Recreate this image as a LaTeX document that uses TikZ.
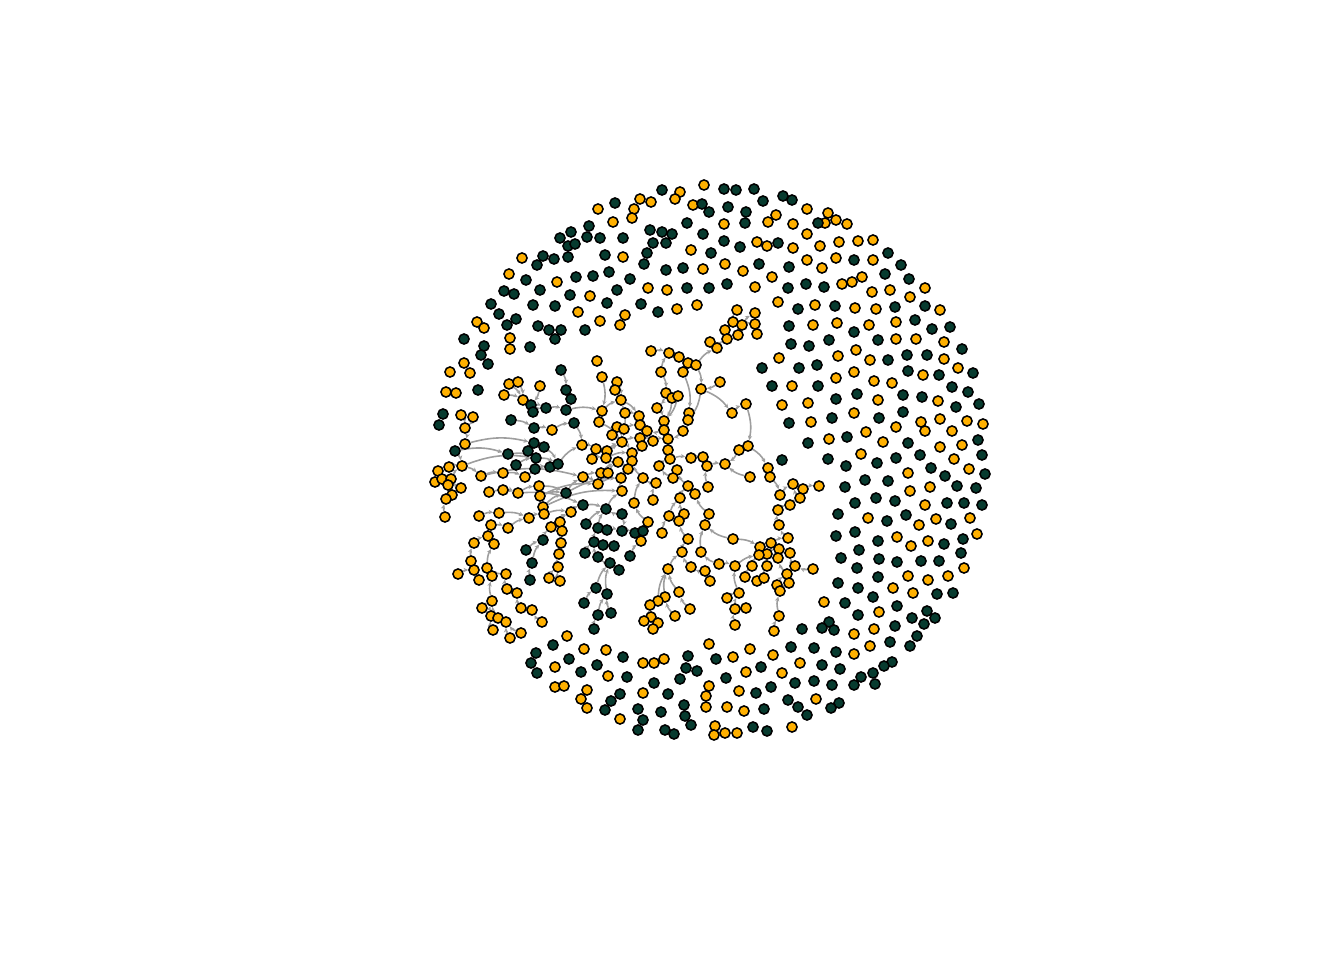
\documentclass[tikz,border=0pt]{standalone}
\usepackage{xcolor}
\usepackage{tikz}
\usetikzlibrary{arrows.meta, backgrounds}
\definecolor{nodeorange}{HTML}{FFB000}
\definecolor{nodegreen}{HTML}{073B2F}
\definecolor{edgegray}{HTML}{9E9E9E}
\tikzset{
  onode/.style={circle, draw=black, fill=nodeorange, line width=1.15pt,
                minimum size=7.6pt, inner sep=0pt},
  gnode/.style={circle, draw=black, fill=nodegreen, line width=1.15pt,
                minimum size=7.6pt, inner sep=0pt},
  link/.style={draw=edgegray, line width=1.2pt,
               -{Stealth[length=3.5pt, width=3.2pt]}},
}

\begin{document}
\begin{tikzpicture}[x=0.75pt, y=-0.75pt]
  \useasboundingbox (0,0) rectangle (1344,960);

  % Orange vertices
  \foreach \x/\y in {598/209, 613/222, 522/258, 509/274, 557/282, 590/296, 578/312, 477/322, 484/328, 600/321, 620/325, 510/338, 510/349, 464/363, 450/372, 470/373, 597/361, 602/377, 623/257, 625/315,
    680/192, 675/199, 704/185, 640/199, 651/202, 634/209, 632/218, 693/205, 776/215, 768/222, 793/224, 807/209, 724/224, 757/242, 767/246, 793/248, 807/234, 820/246, 691/250, 703/269, 725/264, 743/271, 772/277, 807/260, 822/268, 648/288, 667/290, 755/287, 677/309, 697/305, 778/302, 815/305, 813/325, 779/358, 737/310, 755/313, 733/322, 742/325, 755/324, 725/330, 738/335, 757/334, 727/339, 710/342, 717/348, 651/351, 669/353, 679/357, 688/363, 696/365, 661/372, 683/372,
    828/213, 825/223, 836/220, 847/224, 839/242, 858/241, 873/240, 836/258, 873/260, 842/284, 852/282, 862/277, 872/292, 890/290, 925/288, 910/297, 855/308, 876/309, 940/310, 837/323, 869/325, 896/322, 896/339, 916/339, 944/342, 838/356, 856/350, 870/360, 944/359, 854/372, 958/368, 923/375,
    836/378, 874/381, 892/383, 878/400, 938/401, 854/413, 921/422, 925/431, 940/419, 952/431, 967/421, 983/424, 829/439, 866/432, 896/427, 883/442, 940/447, 962/445, 861/454, 954/459, 908/473, 969/469, 910/491, 930/487, 925/505, 868/518, 919/525, 936/519, 970/518, 897/537, 911/546, 928/541, 977/534, 964/568,
    908/576, 928/580, 948/576, 893/588, 913/593, 824/602, 879/612, 854/634, 874/629, 870/646, 854/654, 816/699,
    668/569, 691/567, 705/571, 719/564, 735/566, 752/566, 767/566, 787/574, 795/566, 813/569, 710/581, 745/577, 757/581, 764/578, 777/585, 789/583, 780/591, 679/592, 665/597, 658/601, 650/605, 690/609, 675/616, 651/617, 644/621, 658/623, 653/629, 739/593, 727/598, 735/609, 746/608, 735/625, 779/616, 774/631, 709/644, 750/649, 773/655, 800/663, 643/663, 654/663, 664/659, 733/657, 746/672, 782/673, 709/686, 643/693, 706/696, 739/691, 706/707, 727/707, 744/711, 620/719, 715/726, 714/735, 725/733, 737/733, 792/727,
    458/574, 474/570, 487/568, 479/580, 492/576, 506/574, 549/578, 560/581, 558/567, 507/589, 517/593, 492/601, 482/608, 521/608, 532/610, 491/616, 498/618, 506/622, 542/622, 493/630, 510/638, 521/633, 567/636, 584/649, 606/650, 555/667, 608/676, 555/687, 564/686, 587/690, 581/699, 587/708,
    446/392, 456/393, 509/384, 518/382, 504/395, 540/386, 523/400, 461/415, 473/417, 465/428, 552/430, 602/411, 599/422, 617/382, 615/390, 621/400, 617/427, 612/435, 622/442, 465/444, 582/445, 596/449, 607/451, 592/459, 606/458, 618/462, 438/471, 449/467, 462/466, 435/482, 442/479, 451/479, 448/485, 461/488, 452/495, 446/499, 445/517, 481/476, 503/473, 525/477, 583/477, 601/473, 608/473, 598/484, 621/478, 489/492, 503/490, 518/493, 539/486, 540/496, 622/491, 543/507, 544/514, 529/518, 499/513, 479/516, 571/512, 491/525, 508/528, 551/527, 560/522, 562/531, 488/536, 474/543, 494/544, 561/543, 559/554, 471/561,
    720/382, 701/389, 666/393, 672/398, 678/396, 657/408, 689/413, 688/420, 746/404, 732/413, 625/413, 639/416, 664/421, 640/425, 624/429, 647/431, 664/430, 683/431, 640/438, 653/441, 668/439, 642/446, 668/450, 632/453, 739/450, 748/446, 632/461, 670/459, 691/458, 703/457, 707/466, 725/464, 768/468, 659/466, 677/470, 628/469, 643/478, 673/478, 750/477, 770/477, 656/483, 688/486, 708/487, 793/484, 803/489, 819/486, 695/494, 780/495, 800/498, 653/500, 680/498, 634/503, 790/505, 778/510, 669/516, 684/514, 709/514, 679/521, 705/525, 779/525, 648/522, 641/541, 662/533, 688/539, 733/539, 788/538, 682/552, 701/552, 760/547, 771/543, 779/549, 790/553, 767/554, 778/558, 759/555, 792/386, 782/405, 808/403, 811/422}
    \node[onode] (n-\x-\y) at (\x,\y) {};

  % Green vertices
  \foreach \x/\y in {615/203, 589/226, 571/232, 560/238, 587/237, 600/238, 623/238, 568/246, 575/244, 568/257, 605/255, 543/256, 554/259, 537/265, 576/277, 593/276, 609/272, 526/280, 504/291, 514/294, 540/290, 570/295, 617/290, 491/304, 499/314, 533/305, 555/306, 607/303, 507/325, 516/319, 538/326, 549/330, 561/330, 555/339, 585/330, 464/339, 484/346, 530/347, 481/355, 488/364, 561/370,
    662/190, 724/189, 736/190, 754/189, 783/196, 792/200, 763/201, 702/204, 709/212, 728/207, 746/212, 745/223, 818/223, 650/230, 662/232, 672/234, 653/243, 666/243, 647/253, 687/223, 703/234, 724/241, 740/247, 778/243, 711/253, 644/264, 666/270, 683/268, 759/264, 789/267, 630/279, 687/288, 709/288, 727/284, 788/288, 806/284, 641/304, 658/312, 798/309, 789/326, 791/344, 809/346, 762/368, 799/368, 817/365,
    854/260, 888/253, 901/265, 824/287, 885/274, 909/279, 835/306, 895/307, 925/306, 854/332, 915/320, 932/329, 950/327, 829/340, 878/340, 962/349, 888/360, 907/355, 927/355, 973/373, 908/371, 939/375,
    818/386, 952/387, 968/392, 836/399, 857/394, 903/395, 922/397, 956/407, 979/404, 832/418, 879/418, 903/412, 847/437, 908/443, 978/440, 828/459, 846/466, 877/463, 896/458, 920/455, 982/455, 931/468, 945/476, 985/474, 845/487, 865/480, 888/481, 957/486, 976/488, 855/503, 876/498, 895/501, 947/503, 964/503, 982/505, 838/514, 887/521, 906/515, 951/524, 836/536, 855/532, 878/541, 944/544, 963/539, 841/558, 859/550, 879/559, 897/562, 921/561, 939/561, 961/553, 857/568,
    772/386, 789/423, 808/443, 782/460,
    878/577, 838/583, 858/588, 937/594, 953/593, 845/603, 873/597, 897/606, 858/615, 912/618, 927/611, 935/618, 924/624, 829/622, 822/628, 834/630, 895/626, 917/636, 910/646, 890/642, 836/652, 892/662, 884/666, 873/673, 861/677, 854/685, 875/684, 840/669, 822/665, 832/685, 839/703, 831/708,
    802/629, 791/647, 814/648, 623/657, 688/656, 686/668, 697/671, 680/679, 716/659, 761/667, 627/677, 654/683, 726/678, 795/683, 814/681, 620/694, 668/694, 756/693, 771/687, 638/709, 661/712, 684/705, 764/709, 788/700, 798/707, 807/715, 643/720, 685/716, 691/725, 638/730, 665/730, 674/734, 753/727, 767/731,
    530/580, 532/563, 610/563, 596/588, 607/594, 584/603, 598/615, 611/613, 594/629, 553/645, 536/653, 531/663, 537/673, 569/659, 581/672, 597/665, 611/701, 605/710,
    478/390, 566/390, 571/399, 531/405, 533/412, 546/408, 566/410, 443/414, 439/425, 511/420, 534/428, 574/423, 455/451, 534/443, 544/447, 528/451, 508/454, 536/458, 516/465, 535/469, 550/467, 558/464, 566/493, 583/505, 606/509, 622/514, 586/524, 598/528, 607/530, 622/531, 543/540, 594/542, 603/545, 614/546, 526/550, 585/553, 598/557, 619/570,
    635/533, 643/531, 630/556}
    \node[gnode] (n-\x-\y) at (\x,\y) {};

  % Edges of the giant component
  \begin{scope}[on background layer]
    \foreach \a/\b in {509-384/523-400, 518-382/523-400, 504-395/523-400, 523-400/531-405, 540-386/531-405, 531-405/546-408, 533-412/546-408, 546-408/566-410, 566-390/566-410, 571-399/566-410, 561-370/566-390, 566-410/602-411, 602-377/602-411, 617-382/621-400, 615-390/621-400, 602-411/621-400, 621-400/622-442, 599-422/622-442, 612-435/622-442, 617-427/622-442,
      461-415/465-428, 473-417/465-428, 465-428/465-444, 465-444/455-451, 455-451/462-466, 511-420/534-428, 534-428/552-430, 552-430/574-423, 574-423/582-445, 534-443/544-447, 544-447/558-464, 528-451/536-458, 508-454/536-458, 516-465/536-458, 536-458/558-464, 535-469/550-467, 550-467/558-464, 558-464/582-445, 582-445/596-449, 596-449/606-458, 607-451/622-442, 592-459/606-458, 606-458/622-442, 618-462/606-458, 583-477/601-473, 601-473/618-462, 608-473/618-462, 598-484/621-478, 621-478/632-461,
      438-471/449-467, 449-467/462-466, 442-479/451-479, 435-482/451-479, 448-485/451-479, 451-479/462-466, 461-488/451-479, 452-495/461-488, 446-499/452-495, 445-517/446-499, 462-466/481-476, 481-476/503-473, 503-473/525-477, 525-477/558-464,
      489-492/518-493, 503-490/518-493, 518-493/539-486, 539-486/566-493, 540-496/566-493, 566-493/583-477, 543-507/566-493, 544-514/571-512, 571-512/583-505, 583-505/606-509, 606-509/622-491, 622-491/621-478, 529-518/544-514, 499-513/529-518, 479-516/499-513, 491-525/508-528, 508-528/529-518, 551-527/571-512, 560-522/571-512, 562-531/560-522, 586-524/606-509, 598-528/606-509, 607-530/622-531, 622-514/622-531, 622-514/606-509, 622-531/635-533, 635-533/643-531, 643-531/648-522, 641-541/635-533, 630-556/641-541,
      488-536/491-525, 474-543/488-536, 494-544/491-525, 543-540/551-527, 561-543/562-531, 594-542/598-528, 603-545/594-542, 614-546/603-545, 526-550/543-540, 532-563/543-540, 559-554/561-543, 585-553/594-542, 598-557/594-542, 610-563/598-557, 471-561/474-543, 487-568/494-544, 474-570/471-561, 558-567/559-554, 619-570/610-563,
      458-574/474-570, 479-580/474-570, 492-576/487-568, 506-574/487-568, 507-589/506-574, 517-593/507-589, 521-608/517-593, 532-610/521-608, 542-622/532-610, 492-601/492-576, 482-608/492-601, 491-616/492-601, 498-618/492-601, 506-622/498-618, 493-630/491-616, 510-638/506-622, 521-633/506-622, 530-580/532-563, 549-578/558-567, 560-581/558-567,
      596-588/610-563, 607-594/610-563, 584-603/596-588, 598-615/607-594, 611-613/607-594, 594-629/598-615,
      621-400/639-416, 625-413/639-416, 639-416/640-425, 657-408/664-421, 666-393/657-408, 672-398/664-421, 678-396/664-421, 661-372/666-393, 683-372/689-413, 689-413/688-420, 701-389/688-420, 720-382/701-389, 688-420/683-431, 664-421/664-430, 640-425/647-431, 624-429/640-425, 647-431/640-438, 664-430/668-439, 683-431/668-439, 653-441/668-439, 640-438/642-446, 642-446/632-453, 632-453/632-461, 668-439/668-450, 668-450/670-459, 622-442/640-438, 628-469/632-461, 643-478/632-461, 659-466/670-459, 670-459/691-458, 691-458/703-457, 703-457/707-466, 707-466/725-464, 677-470/673-478, 673-478/659-466, 656-483/643-478, 688-486/677-470, 708-487/707-466, 695-494/688-486, 680-498/688-486, 653-500/656-483, 634-503/643-478, 669-516/680-498, 684-514/680-498, 709-514/695-494, 679-521/684-514, 705-525/709-514, 648-522/634-503, 662-533/669-516, 688-539/679-521, 682-552/688-539, 701-552/705-525, 668-569/682-552, 691-567/682-552, 719-564/701-552, 705-571/691-567,
      606-458/632-453, 622-442/632-453, 618-462/628-469, 640-438/653-441, 664-430/647-431, 583-477/598-484, 481-476/583-477, 462-466/536-458, 518-493/583-505, 543-507/622-491, 540-496/598-484, 566-493/621-478, 465-444/534-443, 455-451/508-454,
      696-365/717-348, 688-363/696-365, 679-357/688-363, 669-353/679-357, 651-351/669-353, 683-372/688-363, 661-372/669-353, 696-365/701-389, 710-342/717-348, 717-348/727-339, 727-339/725-330, 725-330/733-322, 733-322/737-310, 733-322/742-325, 742-325/755-313, 742-325/755-324, 738-335/742-325, 757-334/755-324, 738-335/727-339,
      701-389/732-413, 732-413/746-404, 746-404/748-446, 748-446/739-450, 739-450/725-464, 748-446/768-468, 768-468/770-477, 750-477/725-464, 770-477/780-495, 780-495/793-484, 793-484/803-489, 803-489/819-486, 800-498/793-484, 790-505/800-498, 778-510/790-505, 779-525/778-510, 788-538/779-525, 771-543/788-538, 760-547/771-543, 779-549/771-543, 790-553/779-549, 767-554/779-549, 778-558/767-554, 759-555/767-554, 733-539/760-547, 735-566/759-555, 752-566/759-555, 767-566/767-554, 795-566/790-553, 813-569/795-566, 787-574/778-558, 777-585/787-574, 789-583/787-574, 780-591/789-583, 779-616/780-591, 774-631/779-616, 764-578/767-566, 757-581/764-578, 745-577/752-566, 739-593/735-566, 727-598/739-593, 735-609/739-593, 746-608/735-609, 735-625/735-609, 710-581/705-571, 733-539/705-525, 719-564/735-566,
      679-592/668-569, 665-597/668-569, 658-601/668-569, 650-605/658-601, 690-609/679-592, 675-616/665-597, 651-617/650-605, 644-621/651-617, 658-623/651-617, 653-629/658-623}
      \draw[link] (n-\a) to[bend left=14] (n-\b);
  \end{scope}
\end{tikzpicture}
\end{document}
